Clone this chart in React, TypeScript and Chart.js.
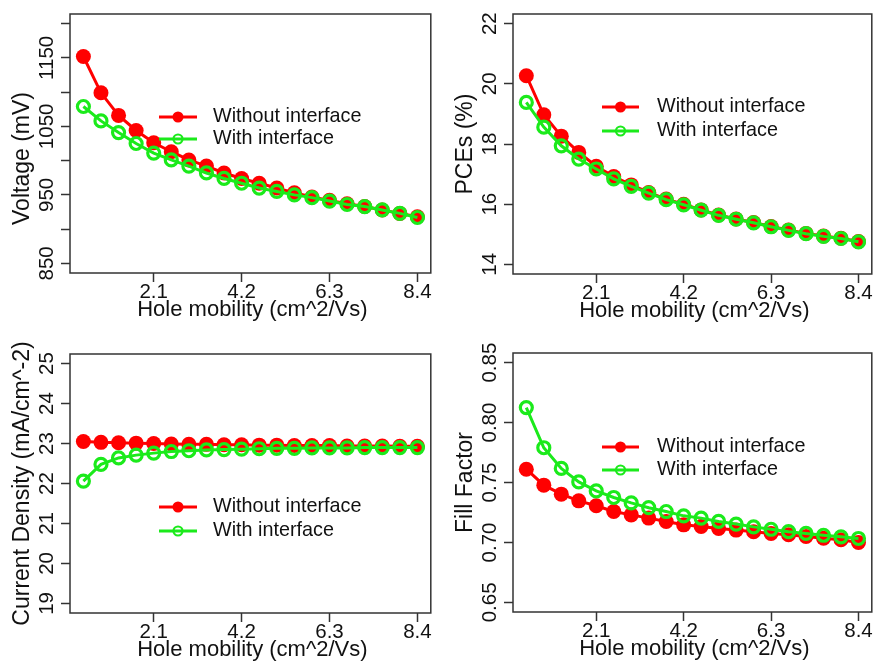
import React, { useEffect, useRef } from 'react';
import { Chart, registerables } from 'chart.js';

Chart.register(...registerables);

// ---------------- data ----------------
const mobility = [0.42, 0.84, 1.26, 1.68, 2.1, 2.52, 2.94, 3.36, 3.78, 4.2, 4.62, 5.04, 5.46, 5.88, 6.3, 6.72, 7.14, 7.56, 7.98, 8.4];
const xTickValues = [2.1, 4.2, 6.3, 8.4];
const xTickLabels = ['2.1', '4.2', '6.3', '8.4'];
const xTitle = 'Hole mobility (cm^2/Vs)';
const seriesNames = ['Without interface', 'With interface'];

const vocWithout = [1152, 1099, 1066, 1044, 1026, 1013, 1001, 992, 982, 974, 967, 960, 953, 947, 942, 937, 933, 928, 923, 918];
const vocWith = [1079, 1058, 1041, 1025, 1011, 1001, 992, 982, 974, 967, 960, 955, 950, 946, 941, 936, 933, 928, 923, 917];
const vocTicks = [850, 900, 950, 1000, 1050, 1100, 1150, 1200];
const vocTickLabels = ['850', '', '950', '', '1050', '', '1150', ''];

const pceWithout = [20.27, 18.97, 18.26, 17.72, 17.26, 16.92, 16.64, 16.39, 16.17, 16.0, 15.81, 15.64, 15.51, 15.39, 15.26, 15.14, 15.03, 14.94, 14.87, 14.76];
const pceWith = [19.38, 18.56, 17.94, 17.5, 17.17, 16.84, 16.59, 16.37, 16.15, 15.98, 15.8, 15.63, 15.5, 15.38, 15.25, 15.13, 15.02, 14.93, 14.86, 14.75];
const pceTicks = [14, 16, 18, 20, 22];
const pceTickLabels = ['14', '16', '18', '20', '22'];

const jscWithout = [23.05, 23.03, 23.02, 23.01, 23.0, 22.99, 22.98, 22.98, 22.97, 22.97, 22.96, 22.96, 22.95, 22.95, 22.95, 22.94, 22.94, 22.94, 22.93, 22.93];
const jscWith = [22.06, 22.48, 22.64, 22.71, 22.76, 22.8, 22.82, 22.84, 22.85, 22.86, 22.87, 22.88, 22.88, 22.89, 22.89, 22.89, 22.9, 22.9, 22.9, 22.9];
const jscTicks = [19, 20, 21, 22, 23, 24, 25];
const jscTickLabels = ['19', '20', '21', '22', '23', '24', '25'];

const ffWithout = [0.7611, 0.7478, 0.7403, 0.7347, 0.7306, 0.7258, 0.723, 0.7203, 0.7175, 0.7147, 0.7133, 0.7117, 0.7103, 0.709, 0.7075, 0.7064, 0.705, 0.7036, 0.7022, 0.70];
const ffWith = [0.8125, 0.779, 0.7617, 0.7505, 0.743, 0.7375, 0.733, 0.729, 0.7258, 0.7222, 0.7203, 0.7175, 0.7153, 0.713, 0.711, 0.709, 0.7075, 0.706, 0.7047, 0.7033];
const ffTicks = [0.65, 0.7, 0.75, 0.8, 0.85];
const ffTickLabels = ['0.65', '0.70', '0.75', '0.80', '0.85'];

// ---------------- styling / layout ----------------
const RED = '#FF0000';
const GREEN = '#1BEA1B';
const AXIS = '#333333';
const TEXT = '#111111';
const FONT = '"Liberation Sans", Arial, Helvetica, sans-serif';
const TICK_SIZE = 20.5;
const XTITLE_SIZE = 22;
const YTITLE_SIZE = 23;
const LEGEND_SIZE = 19.8;

type Panel = {
  key: string;
  left: number; top: number; w: number; h: number;
  area: { left: number; right: number; top: number; bottom: number };
  yMin: number; yMax: number;
  yTicks: number[]; yLabels: string[];
  yTitle: string; yTitleShift: number;
  without: number[]; withI: number[];
  legend: { lineX0: number; lineX1: number; textX: number; row0: number; row1: number };
};

const panels: Panel[] = [
  {
    key: 'voc', left: 0, top: 0, w: 440, h: 333,
    area: { left: 70, right: 433, top: 14, bottom: 273 },
    yMin: 836, yMax: 1214, yTicks: vocTicks, yLabels: vocTickLabels,
    yTitle: 'Voltage (mV)', yTitleShift: 15,
    without: vocWithout, withI: vocWith,
    legend: { lineX0: 159, lineX1: 197, textX: 213, row0: 117, row1: 139 },
  },
  {
    key: 'pce', left: 440, top: 0, w: 441, h: 333,
    area: { left: 73, right: 437, top: 14, bottom: 274 },
    yMin: 13.68, yMax: 22.32, yTicks: pceTicks, yLabels: pceTickLabels,
    yTitle: 'PCEs (%)', yTitleShift: 0,
    without: pceWithout, withI: pceWith,
    legend: { lineX0: 162, lineX1: 199, textX: 217, row0: 107, row1: 131 },
  },
  {
    key: 'jsc', left: 0, top: 333, w: 440, h: 333,
    area: { left: 70, right: 433, top: 21, bottom: 280 },
    yMin: 18.76, yMax: 25.24, yTicks: jscTicks, yLabels: jscTickLabels,
    yTitle: 'Current Density (mA/cm^-2)', yTitleShift: 0,
    without: jscWithout, withI: jscWith,
    legend: { lineX0: 159, lineX1: 197, textX: 213, row0: 174, row1: 198 },
  },
  {
    key: 'ff', left: 440, top: 333, w: 441, h: 333,
    area: { left: 73, right: 437, top: 20, bottom: 279 },
    yMin: 0.642, yMax: 0.858, yTicks: ffTicks, yLabels: ffTickLabels,
    yTitle: 'Fill Factor', yTitleShift: 0,
    without: ffWithout, withI: ffWith,
    legend: { lineX0: 162, lineX1: 199, textX: 217, row0: 114, row1: 137 },
  },
];

function makeOverlay(p: Panel) {
  return {
    id: 'rOverlay_' + p.key,
    afterDraw(chart: any) {
      const { ctx, chartArea: a, scales } = chart;
      const x = scales.x;
      const y = scales.y;
      ctx.save();
      // box
      ctx.strokeStyle = AXIS;
      ctx.lineWidth = 1.5;
      ctx.strokeRect(a.left, a.top, a.right - a.left, a.bottom - a.top);

      ctx.fillStyle = TEXT;
      // x tick labels
      ctx.font = `${TICK_SIZE}px ${FONT}`;
      ctx.textAlign = 'center';
      ctx.textBaseline = 'alphabetic';
      xTickValues.forEach((v, i) => {
        ctx.fillText(xTickLabels[i], x.getPixelForValue(v), a.bottom + 25);
      });
      // x title
      ctx.font = `${XTITLE_SIZE}px ${FONT}`;
      ctx.fillText(xTitle, (a.left + a.right) / 2 + 2, a.bottom + 43);

      // y tick labels (rotated, parallel to axis)
      ctx.font = `${TICK_SIZE}px ${FONT}`;
      p.yTicks.forEach((v, i) => {
        const lab = p.yLabels[i];
        if (!lab) return;
        ctx.save();
        ctx.translate(a.left - 17.5, y.getPixelForValue(v));
        ctx.rotate(-Math.PI / 2);
        ctx.fillText(lab, 0, 0);
        ctx.restore();
      });
      // y title
      ctx.font = `${YTITLE_SIZE}px ${FONT}`;
      ctx.save();
      ctx.translate(a.left - 41.5, (a.top + a.bottom) / 2 + p.yTitleShift);
      ctx.rotate(-Math.PI / 2);
      ctx.fillText(p.yTitle, 0, 0);
      ctx.restore();

      // legend
      const L = p.legend;
      const rows = [
        { color: RED, y: L.row0, filled: true, label: seriesNames[0] },
        { color: GREEN, y: L.row1, filled: false, label: seriesNames[1] },
      ];
      rows.forEach((r) => {
        ctx.strokeStyle = r.color;
        ctx.lineWidth = 3;
        ctx.beginPath();
        ctx.moveTo(L.lineX0, r.y);
        ctx.lineTo(L.lineX1, r.y);
        ctx.stroke();
        const cx = (L.lineX0 + L.lineX1) / 2;
        ctx.beginPath();
        if (r.filled) {
          ctx.fillStyle = r.color;
          ctx.arc(cx, r.y, 5.5, 0, Math.PI * 2);
          ctx.fill();
        } else {
          ctx.lineWidth = 2.2;
          ctx.arc(cx, r.y, 4.5, 0, Math.PI * 2);
          ctx.stroke();
        }
        ctx.fillStyle = TEXT;
        ctx.font = `${LEGEND_SIZE}px ${FONT}`;
        ctx.textAlign = 'left';
        ctx.textBaseline = 'middle';
        ctx.fillText(r.label, L.textX, r.y);
      });
      ctx.restore();
    },
  };
}

function PanelChart({ p }: { p: Panel }) {
  const ref = useRef<HTMLCanvasElement | null>(null);
  useEffect(() => {
    if (!ref.current) return;
    const chart = new Chart(ref.current, {
      type: 'line',
      data: {
        datasets: [
          {
            label: seriesNames[1],
            data: mobility.map((m, i) => ({ x: m, y: p.withI[i] })),
            borderColor: GREEN,
            backgroundColor: 'rgba(0,0,0,0)',
            borderWidth: 3,
            pointRadius: 6,
            pointBorderWidth: 3.2,
            pointBorderColor: GREEN,
            pointBackgroundColor: 'rgba(0,0,0,0)',
            tension: 0,
            order: 0,
          },
          {
            label: seriesNames[0],
            data: mobility.map((m, i) => ({ x: m, y: p.without[i] })),
            borderColor: RED,
            backgroundColor: RED,
            borderWidth: 3,
            pointRadius: 7.5,
            pointBorderWidth: 0,
            pointBackgroundColor: RED,
            tension: 0,
            order: 1,
          },
        ],
      },
      options: {
        responsive: false,
        animation: false,
        devicePixelRatio: 1,
        layout: {
          padding: { left: 0, top: p.area.top, right: p.w - p.area.right, bottom: 0 },
        },
        plugins: { legend: { display: false }, tooltip: { enabled: false } },
        scales: {
          x: {
            type: 'linear',
            min: 0.1,
            max: 8.72,
            afterBuildTicks: (s: any) => {
              s.ticks = xTickValues.map((v) => ({ value: v }));
            },
            afterFit: (s: any) => {
              s.height = p.h - p.area.bottom;
            },
            ticks: { display: false },
            border: { display: false },
            grid: {
              drawOnChartArea: false,
              drawTicks: true,
              tickLength: 9,
              tickWidth: 1.5,
              tickColor: AXIS,
            },
          },
          y: {
            type: 'linear',
            min: p.yMin,
            max: p.yMax,
            afterBuildTicks: (s: any) => {
              s.ticks = p.yTicks.map((v) => ({ value: v }));
            },
            afterFit: (s: any) => {
              s.width = p.area.left;
            },
            ticks: { display: false },
            border: { display: false },
            grid: {
              drawOnChartArea: false,
              drawTicks: true,
              tickLength: 9,
              tickWidth: 1.5,
              tickColor: AXIS,
            },
          },
        },
      },
      plugins: [makeOverlay(p)],
    } as any);
    return () => chart.destroy();
  }, [p]);
  return (
    <canvas
      ref={ref}
      width={p.w}
      height={p.h}
      style={{ position: 'absolute', left: p.left, top: p.top, width: p.w, height: p.h }}
    />
  );
}

export default function App() {
  return (
    <div style={{ position: 'absolute', left: 0, top: 0, width: 881, height: 666, background: '#ffffff' }}>
      {panels.map((p) => (
        <PanelChart key={p.key} p={p} />
      ))}
    </div>
  );
}
